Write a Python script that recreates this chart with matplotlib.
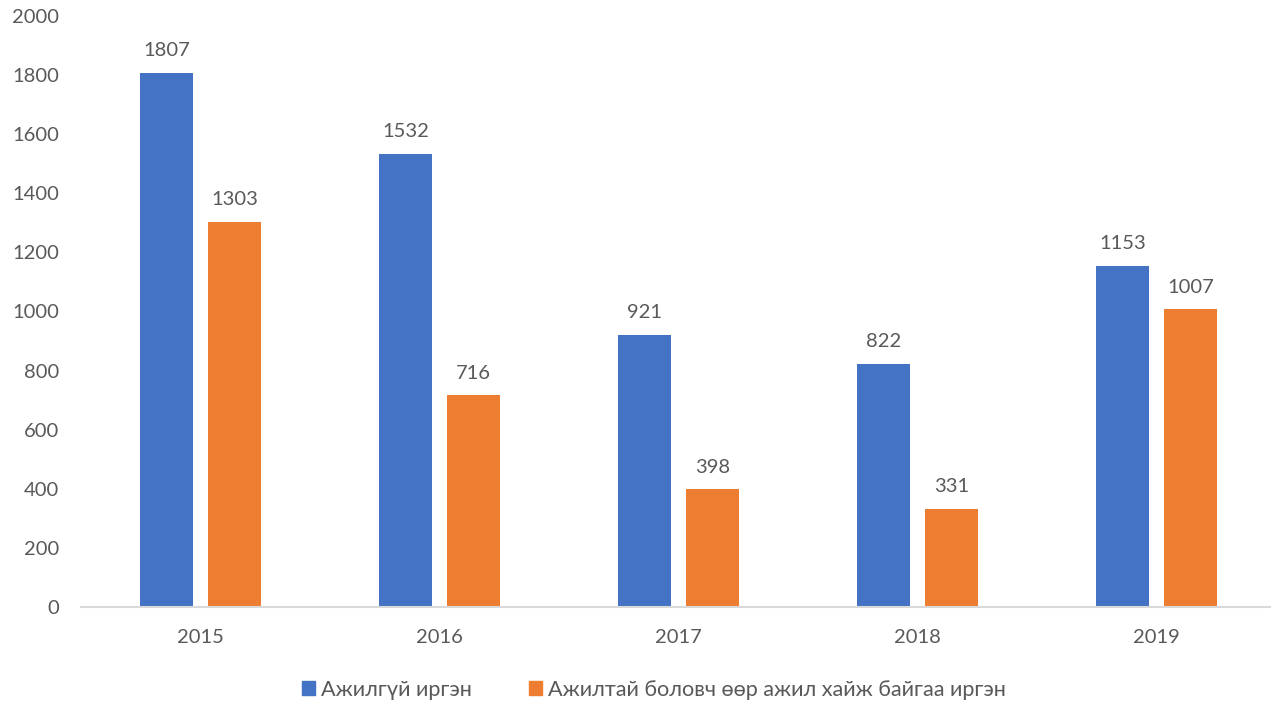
import matplotlib
matplotlib.use("Agg")
import matplotlib.pyplot as plt
from matplotlib import font_manager
from matplotlib.patches import Patch

years = ["2015", "2016", "2017", "2018", "2019"]
unemployed = [1807, 1532, 921, 822, 1153]
seeking_other = [1303, 716, 398, 331, 1007]
series_names = ["Ажилгүй иргэн", "Ажилтай боловч өөр ажил хайж байгаа иргэн"]

names = {f.name for f in font_manager.fontManager.ttflist}
main_font = "Lato" if "Lato" in names else "DejaVu Sans"
legend_font = main_font

blue = "#4472C4"
orange = "#ED7D31"
txt = "#595959"

fig = plt.figure(figsize=(12.73, 7.04), dpi=100)
ax = fig.add_axes([81/1273, 97/704, 1189/1273, 591/704])

x = list(range(len(years)))
w = 0.222
off = 0.142
b1 = ax.bar([i - off for i in x], unemployed, width=w, color=blue, zorder=2)
b2 = ax.bar([i + off for i in x], seeking_other, width=w, color=orange, zorder=2)

for bars, vals in ((b1, unemployed), (b2, seeking_other)):
    for r, v in zip(bars, vals):
        ax.annotate(str(v), (r.get_x() + r.get_width()/2, v), xytext=(0, 10),
                    textcoords="offset points", ha="center", va="bottom",
                    fontsize=14.5, color=txt, family=main_font)

ax.set_xlim(-0.5, 4.475)
ax.set_ylim(0, 2000)
ax.set_yticks(range(0, 2001, 200))
ax.set_xticks(x)
ax.set_xticklabels(years)
for s in ["top", "right", "left"]:
    ax.spines[s].set_visible(False)
ax.spines["bottom"].set_color("#D9D9D9")
ax.spines["bottom"].set_linewidth(1.5)
ax.tick_params(axis="both", length=0, labelsize=14.5, labelcolor=txt)
ax.tick_params(axis="y", pad=16)
ax.tick_params(axis="x", pad=16)
for lab in ax.get_xticklabels() + ax.get_yticklabels():
    lab.set_family(main_font)

handles = [Patch(color=blue), Patch(color=orange)]
fig.legend(handles, series_names, loc="center", bbox_to_anchor=(654/1273, 1 - 690/704),
           ncol=2, frameon=False, handlelength=0.6, handleheight=0.6,
           handletextpad=0.3, columnspacing=2.6,
           prop={"family": legend_font, "size": 15.6}, labelcolor=txt)

fig.savefig("out.png", dpi=100)
